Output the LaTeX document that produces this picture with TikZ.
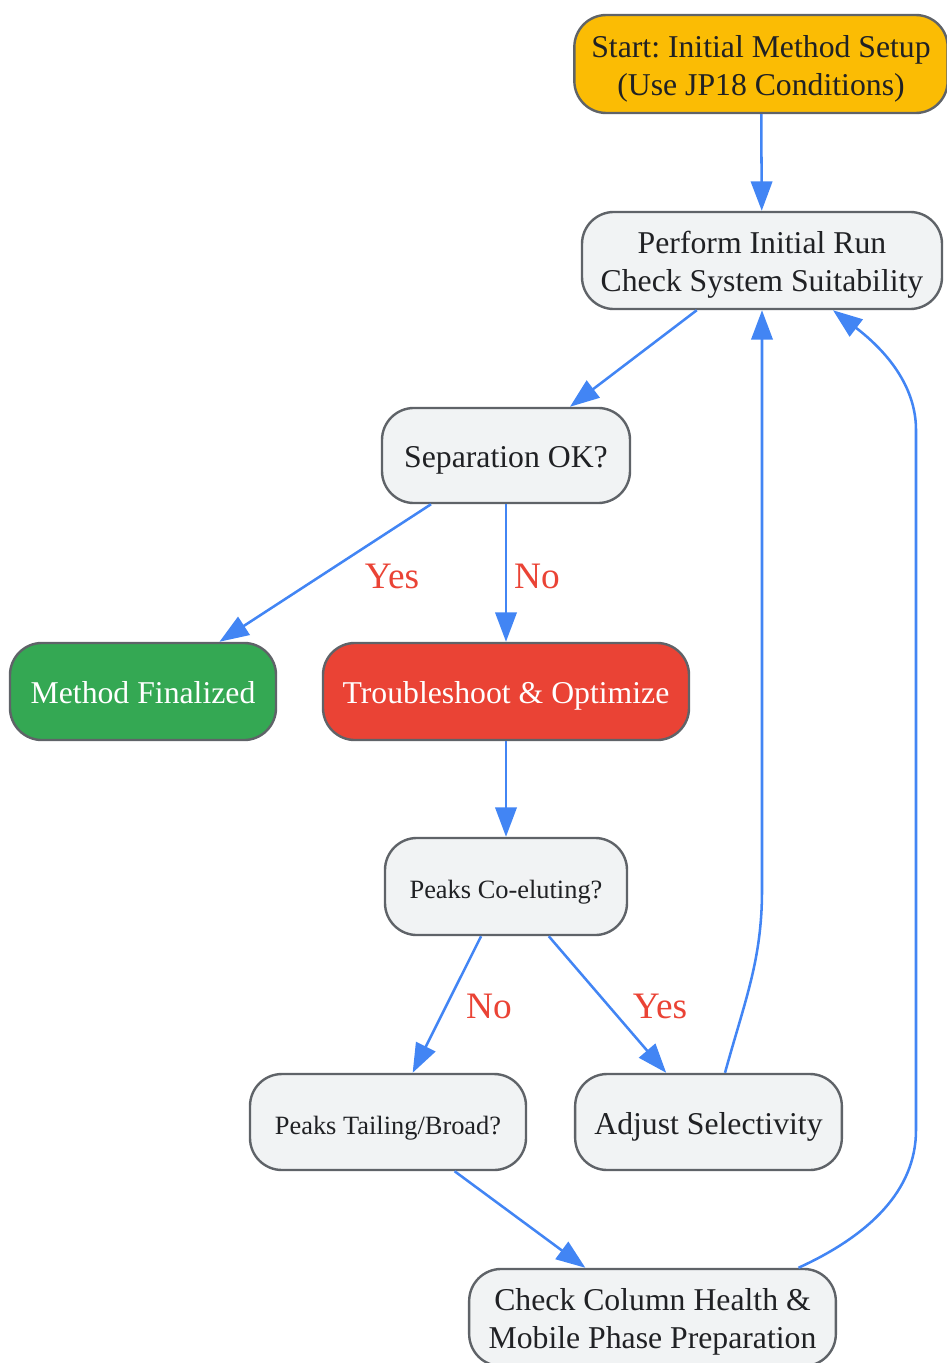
\documentclass[tikz,border=0pt]{standalone}
\usepackage{fontspec}
\setmainfont{Liberation Serif}
\usetikzlibrary{arrows.meta,calc}
\frenchspacing
\definecolor{gfill}{HTML}{F1F3F4}
\definecolor{gborder}{HTML}{5F6368}
\definecolor{gtext}{HTML}{202124}
\definecolor{gblue}{HTML}{4285F4}
\definecolor{gred}{HTML}{EA4335}
\definecolor{ggreen}{HTML}{34A853}
\definecolor{gyellow}{HTML}{FBBC04}
\newcommand\toplift{\rule{0pt}{24.5pt}}
\tikzset{
  box/.style={draw=gborder, line width=1.8pt, fill=gfill, rounded corners=24pt,
    text=gtext, align=center, inner sep=0pt,
    font=\fontsize{23.8}{28.5}\selectfont,
    execute at begin node={\rule[-6pt]{0pt}{30.7pt}}},
  smallbox/.style={box, font=\fontsize{19.8}{24}\selectfont,
    execute at begin node={\rule[-5pt]{0pt}{26.5pt}}},
  edge/.style={draw=gblue, line width=1.9pt, -{Triangle[length=22pt,width=16pt]}},
  elabel/.style={text=gred, font=\fontsize{28}{32}\selectfont, inner sep=0pt},
}
\begin{document}
\frenchspacing
\begin{tikzpicture}[x=0.75pt,y=-0.75pt]
\useasboundingbox (0,0) rectangle (946,1363);
\node[box, fill=gyellow, minimum width=280pt, minimum height=73.5pt] (start) at (761,64) {\toplift Start: Initial Method Setup\\(Use JP18 Conditions)};
\node[box, minimum width=270pt, minimum height=72.8pt] (perf) at (762,260.5) {\toplift Perform Initial Run\\Check System Suitability};
\node[box, minimum width=186pt, minimum height=71.3pt] (sep) at (506,455.5) {Separation OK?};
\node[box, fill=ggreen, text=white, minimum width=199.5pt, minimum height=72.8pt] (fin) at (143,691.5) {Method Finalized};
\node[box, fill=gred, text=white, minimum width=274.5pt, minimum height=72.8pt] (trb) at (506,691.5) {Troubleshoot \& Optimize};
\node[smallbox, minimum width=181.5pt, minimum height=72.8pt] (coel) at (506,886.5) {Peaks Co-eluting?};
\node[smallbox, minimum width=207pt, minimum height=72pt] (tail) at (388,1122) {Peaks Tailing/Broad?};
\node[box, minimum width=200pt, minimum height=72pt] (adj) at (708.5,1122) {Adjust Selectivity};
\node[box, minimum width=275pt, minimum height=72.8pt] (chk) at (652.5,1317.5) {\toplift Check Column Health \&\\Mobile Phase Preparation};

\draw[edge] (start) -- (perf);
\draw[edge] (perf) -- (sep);
\draw[edge] (sep) -- (fin);
\draw[edge] (sep) -- (trb);
\draw[edge] (trb) -- (coel);
\draw[edge] (coel) -- (tail);
\draw[edge] (coel) -- (adj);
\draw[edge] (tail) -- (chk);
\draw[edge] ($(adj.north)+(16.5,0)$) .. controls (745,1000) and (762,960) .. (762,890) -- (perf.south);
\draw[edge] ($(chk.north)+(146,0)$) .. controls (870,1235) and (916,1190) .. (916,1130) -- (916,430) .. controls (916,385) and (885,350) .. ($(perf.south)+(71,0)$);

\node[elabel] (l1) at (392,576) {Yes};
\node[elabel] (l2) at (537,576) {No};
\node[elabel] (l3) at (489,1006) {No};
\node[elabel] (l4) at (660,1006) {Yes};
\end{tikzpicture}
\end{document}
